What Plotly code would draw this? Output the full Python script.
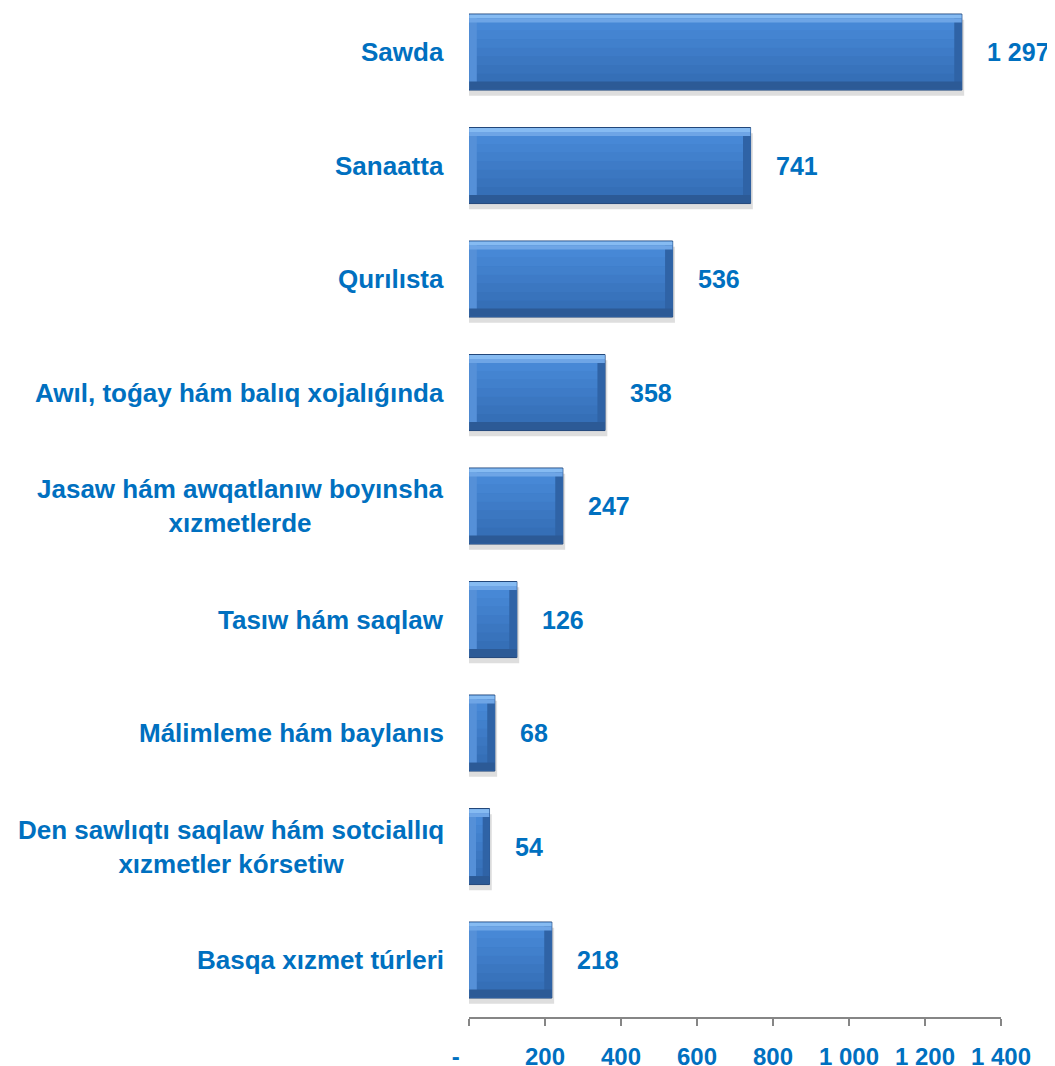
import plotly.graph_objects as go

categories = [
    "Sawda",
    "Sanaatta",
    "Qurılısta",
    "Awıl, toǵay hám balıq xojalıǵında",
    "Jasaw hám awqatlanıw boyınsha<br>xızmetlerde",
    "Tasıw hám saqlaw",
    "Málimleme hám baylanıs",
    "Den sawlıqtı saqlaw hám sotciallıq<br>xızmetler kórsetiw",
    "Basqa xızmet túrleri",
]
values = [1297, 741, 536, 358, 247, 126, 68, 54, 218]
tick_values = [0, 200, 400, 600, 800, 1000, 1200, 1400]
tick_labels = ["-\u00a0\u00a0\u00a0\u00a0", "200", "400", "600", "800", "1 000", "1 200", "1 400"]

BLUE_TEXT = "#0070C0"
FONT = "Liberation Sans, Arial, sans-serif"
BAR_W = 0.67
BEVEL = 0.07   # bevel thickness across the bar (category units)
EDGE = 20      # bevel thickness along the bar (data units)
BODY_SHADES = ["#4788D6", "#4484D1", "#4180CC", "#3E7BC7", "#3B77C1", "#3873BC", "#356FB7"]


def add_band(xs, base, width, offset, color):
    fig.add_trace(go.Bar(
        y=categories, x=xs, base=base, orientation="h",
        width=width, offset=offset,
        marker=dict(color=color, line_width=0),
        hoverinfo="skip", showlegend=False,
    ))


fig = go.Figure()

# soft shadow under each bar
add_band([v + 6 for v in values], None, BAR_W, -BAR_W / 2 + 0.05, "rgba(90,90,90,0.2)")
# main body with outline
fig.add_trace(go.Bar(
    y=categories, x=values, orientation="h",
    width=BAR_W, offset=-BAR_W / 2,
    marker=dict(color="#3C7AC6", line=dict(color="#22477A", width=1)),
    showlegend=False,
))
# vertical gradient of the face
inner = BAR_W - 2 * BEVEL
step = inner / len(BODY_SHADES)
for i, shade in enumerate(BODY_SHADES):
    add_band([v - 1 for v in values], [0.5] * len(values), step + 0.002,
             -BAR_W / 2 + BEVEL + i * step, shade)
# left / right bevels
edge_w = [min(EDGE, v / 3) for v in values]
add_band(edge_w, [0.5] * len(values), BAR_W - 0.02, -BAR_W / 2 + 0.01, "#5590D8")
add_band(edge_w, [v - e for v, e in zip(values, edge_w)], BAR_W - 0.02,
         -BAR_W / 2 + 0.01, "#2F63A6")
# top highlight / bottom shade
add_band([v - 1 for v in values], [0.5] * len(values), BEVEL / 2, -BAR_W / 2 + 0.005, "#86BBF2")
add_band([v - 1 for v in values], [0.5] * len(values), BEVEL / 2,
         -BAR_W / 2 + 0.005 + BEVEL / 2, "#6EA5E6")
add_band([v - 1 for v in values], [0.5] * len(values), BEVEL, BAR_W / 2 - BEVEL - 0.005, "#2C5A96")

for cat, v in zip(categories, values):
    fig.add_annotation(
        x=v, y=cat, xref="x", yref="y", text=f"{v:,}".replace(",", " "),
        showarrow=False, xanchor="left", xshift=23,
        font=dict(family=FONT, size=25, color=BLUE_TEXT, weight="bold"),
    )
    fig.add_annotation(
        x=0, y=cat, xref="paper", yref="y", text=cat,
        showarrow=False, xanchor="right", xshift=-23, align="center",
        font=dict(family=FONT, size=26, color=BLUE_TEXT, weight="bold"),
    )

# page body has an 8px margin, so the figure is sized/positioned to compensate
fig.update_layout(
    barmode="overlay",
    width=1047, height=1058,
    margin=dict(l=461, r=54, t=0, b=49),
    plot_bgcolor="white", paper_bgcolor="white",
)
fig.update_xaxes(
    range=[0, 1400], tickvals=tick_values, ticktext=tick_labels,
    showgrid=False, zeroline=False, automargin=False,
    showline=True, linecolor="#868686", linewidth=1.5,
    ticks="outside", ticklen=7, tickcolor="#868686", tickwidth=1.5,
    tickfont=dict(family=FONT, size=24, color=BLUE_TEXT, weight="bold"),
    ticklabelstandoff=10,
)
fig.update_yaxes(
    categoryorder="array", categoryarray=categories,
    range=[8.502, -0.388], showticklabels=False, automargin=False,
    showgrid=False, zeroline=False, showline=False, ticks="",
)

fig.write_html("out.html")
